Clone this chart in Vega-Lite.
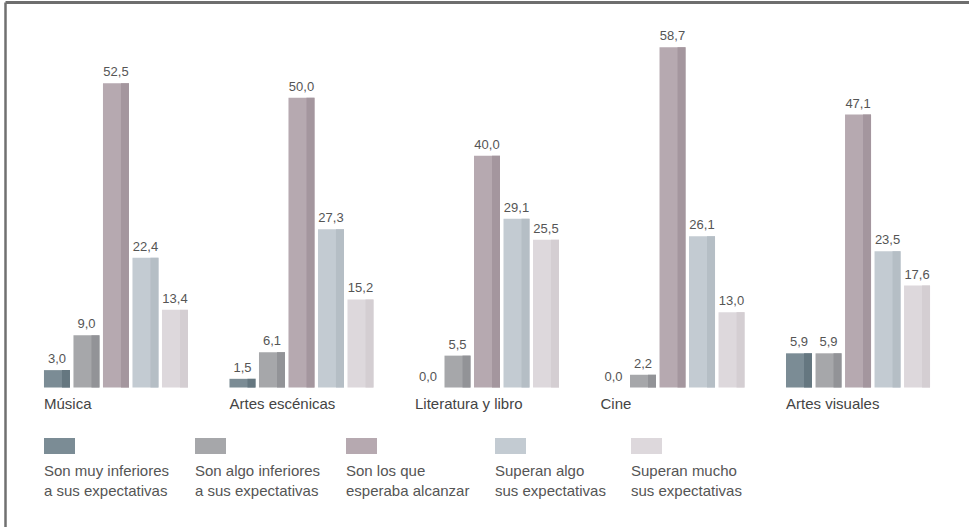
{
  "$schema": "https://vega.github.io/schema/vega-lite/v6.json",
  "autosize": {"type": "none"},
  "width": 964,
  "height": 525,
  "padding": {"left": 5, "top": 2, "right": 0, "bottom": 0},
  "background": "white",
  "config": {
    "view": {"stroke": null},
    "locale": {"number": {"decimal": ",", "thousands": ".", "grouping": [3], "currency": ["", " €"]}},
    "font": "Liberation Sans"
  },
  "data": {
    "values": [
      {"grupo": "Música", "categoria": "Son muy inferiores a sus expectativas", "valor": 3.0},
      {"grupo": "Música", "categoria": "Son algo inferiores a sus expectativas", "valor": 9.0},
      {"grupo": "Música", "categoria": "Son los que esperaba alcanzar", "valor": 52.5},
      {"grupo": "Música", "categoria": "Superan algo sus expectativas", "valor": 22.4},
      {"grupo": "Música", "categoria": "Superan mucho sus expectativas", "valor": 13.4},
      {"grupo": "Artes escénicas", "categoria": "Son muy inferiores a sus expectativas", "valor": 1.5},
      {"grupo": "Artes escénicas", "categoria": "Son algo inferiores a sus expectativas", "valor": 6.1},
      {"grupo": "Artes escénicas", "categoria": "Son los que esperaba alcanzar", "valor": 50.0},
      {"grupo": "Artes escénicas", "categoria": "Superan algo sus expectativas", "valor": 27.3},
      {"grupo": "Artes escénicas", "categoria": "Superan mucho sus expectativas", "valor": 15.2},
      {"grupo": "Literatura y libro", "categoria": "Son muy inferiores a sus expectativas", "valor": 0.0},
      {"grupo": "Literatura y libro", "categoria": "Son algo inferiores a sus expectativas", "valor": 5.5},
      {"grupo": "Literatura y libro", "categoria": "Son los que esperaba alcanzar", "valor": 40.0},
      {"grupo": "Literatura y libro", "categoria": "Superan algo sus expectativas", "valor": 29.1},
      {"grupo": "Literatura y libro", "categoria": "Superan mucho sus expectativas", "valor": 25.5},
      {"grupo": "Cine", "categoria": "Son muy inferiores a sus expectativas", "valor": 0.0},
      {"grupo": "Cine", "categoria": "Son algo inferiores a sus expectativas", "valor": 2.2},
      {"grupo": "Cine", "categoria": "Son los que esperaba alcanzar", "valor": 58.7},
      {"grupo": "Cine", "categoria": "Superan algo sus expectativas", "valor": 26.1},
      {"grupo": "Cine", "categoria": "Superan mucho sus expectativas", "valor": 13.0},
      {"grupo": "Artes visuales", "categoria": "Son muy inferiores a sus expectativas", "valor": 5.9},
      {"grupo": "Artes visuales", "categoria": "Son algo inferiores a sus expectativas", "valor": 5.9},
      {"grupo": "Artes visuales", "categoria": "Son los que esperaba alcanzar", "valor": 47.1},
      {"grupo": "Artes visuales", "categoria": "Superan algo sus expectativas", "valor": 23.5},
      {"grupo": "Artes visuales", "categoria": "Superan mucho sus expectativas", "valor": 17.6}
    ]
  },
  "encoding": {
    "x": {
      "field": "grupo", "type": "nominal",
      "scale": {"type": "band", "domain": ["Música", "Artes escénicas", "Literatura y libro", "Cine", "Artes visuales"], "paddingInner": 0.2237, "paddingOuter": 0.21},
      "axis": {"orient": "top", "labels": false, "ticks": false, "title": null, "grid": false, "domain": true, "domainColor": "#6e6e6e", "domainWidth": 3}
    },
    "y": {
      "field": "valor", "type": "quantitative",
      "scale": {"domain": [-24.07, 66.52], "nice": false},
      "axis": {"orient": "left", "labels": false, "ticks": false, "title": null, "grid": false, "domain": true, "domainColor": "#707070", "domainWidth": 2.5}
    }
  },
  "layer": [
    {
      "mark": {"type": "bar"},
      "encoding": {
        "xOffset": {"field": "categoria", "type": "nominal", "scale": {"type": "band", "domain": ["Son muy inferiores a sus expectativas", "Son algo inferiores a sus expectativas", "Son los que esperaba alcanzar", "Superan algo sus expectativas", "Superan mucho sus expectativas"], "paddingInner": 0.1186, "paddingOuter": 0}},
        "color": {
          "field": "categoria", "type": "nominal",
          "scale": {"domain": ["Son muy inferiores a sus expectativas", "Son algo inferiores a sus expectativas", "Son los que esperaba alcanzar", "Superan algo sus expectativas", "Superan mucho sus expectativas"], "range": ["#7b8c95", "#a6a7aa", "#b6a9b0", "#c3cbd2", "#ddd8dc"]},
          "legend": {
            "orient": "none", "legendX": 39, "legendY": 428.5, "direction": "horizontal", "columns": 5, "columnPadding": 25, "padding": 0,
            "title": null, "symbolType": "M-1,-0.516H1V0.516H-1Z", "symbolSize": 961, "symbolStrokeWidth": 0, "symbolOpacity": 1,
            "labelOffset": -31, "labelBaseline": "top", "labelAlign": "left", "labelFont": "Liberation Sans", "labelFontSize": 15, "labelColor": "#555555", "labelLimit": 0,
            "labelExpr": "datum.label == 'Son muy inferiores a sus expectativas' ? ['Son muy inferiores', 'a sus expectativas'] : datum.label == 'Son algo inferiores a sus expectativas' ? ['Son algo inferiores', 'a sus expectativas'] : datum.label == 'Son los que esperaba alcanzar' ? ['Son los que', 'esperaba alcanzar'] : datum.label == 'Superan algo sus expectativas' ? ['Superan algo', 'sus expectativas'] : ['Superan mucho', 'sus expectativas']",
            "encode": {"labels": {"update": {"dy": {"value": 18}, "lineHeight": {"value": 19.5}}}}
          }
        }
      }
    },
    {
      "mark": {"type": "bar"},
      "encoding": {
        "xOffset": {"field": "categoria", "type": "nominal", "scale": {"type": "band", "domain": ["Son muy inferiores a sus expectativas", "Son algo inferiores a sus expectativas", "Son los que esperaba alcanzar", "Superan algo sus expectativas", "Superan mucho sus expectativas"], "paddingInner": 0.7288, "paddingOuter": 0.3051, "align": 1}},
        "color": {
          "field": "categoria", "type": "nominal",
          "scale": {"domain": ["Son muy inferiores a sus expectativas", "Son algo inferiores a sus expectativas", "Son los que esperaba alcanzar", "Superan algo sus expectativas", "Superan mucho sus expectativas"], "range": ["#657780", "#929397", "#a4969e", "#b5bec5", "#d4ced2"]},
          "legend": null
        }
      }
    },
    {
      "mark": {"type": "text", "align": "center", "baseline": "alphabetic", "dy": -7, "fontSize": 13, "color": "#555555", "font": "Liberation Sans"},
      "encoding": {
        "xOffset": {"field": "categoria", "type": "nominal", "bandPosition": 0.5, "scale": {"type": "band", "domain": ["Son muy inferiores a sus expectativas", "Son algo inferiores a sus expectativas", "Son los que esperaba alcanzar", "Superan algo sus expectativas", "Superan mucho sus expectativas"], "paddingInner": 0.1186, "paddingOuter": 0}},
        "text": {"field": "valor", "type": "quantitative", "format": ".1f"}
      }
    },
    {
      "transform": [{"filter": "datum.categoria == 'Son muy inferiores a sus expectativas'"}],
      "mark": {"type": "text", "align": "left", "baseline": "alphabetic", "dy": 21.5, "fontSize": 15, "color": "#444444", "font": "Liberation Sans"},
      "encoding": {
        "x": {"field": "grupo", "type": "nominal", "bandPosition": 0},
        "y": {"datum": 0, "type": "quantitative"},
        "text": {"field": "grupo", "type": "nominal"}
      }
    }
  ],
  "resolve": {"scale": {"color": "independent", "xOffset": "independent"}}
}
